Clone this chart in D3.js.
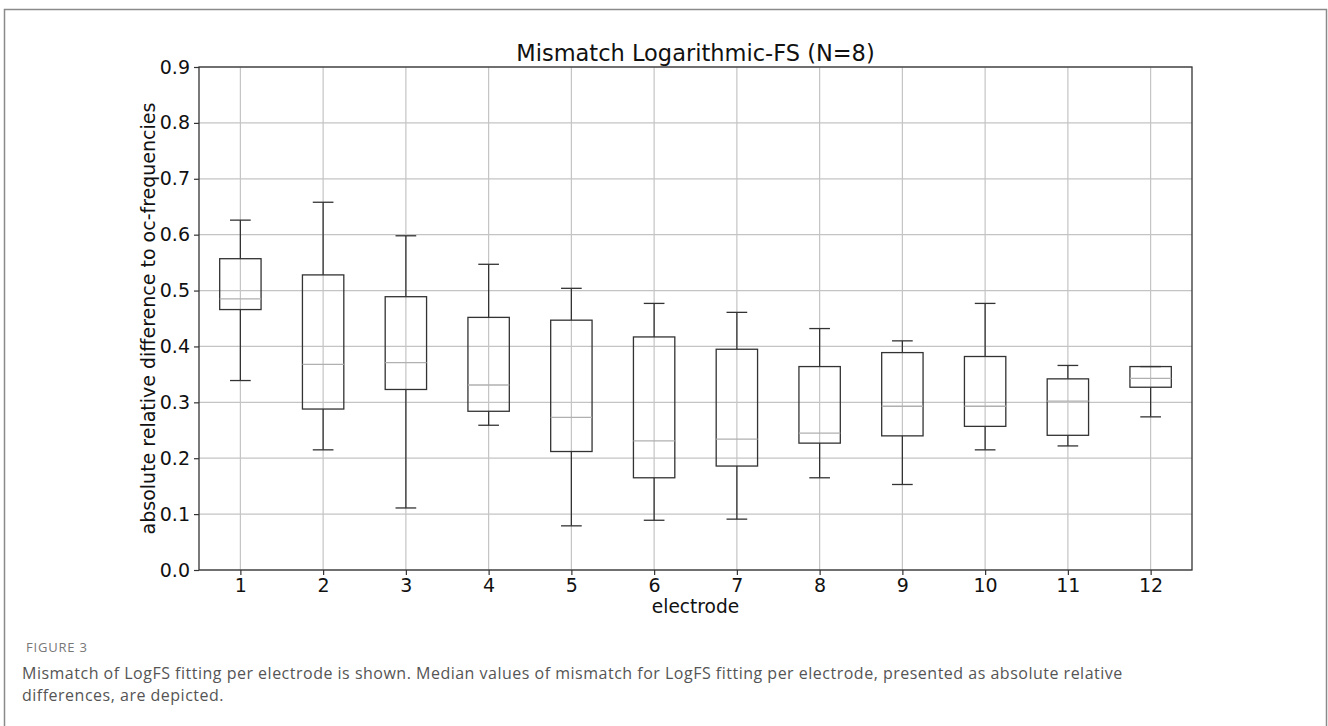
<!DOCTYPE html>
<html>
<head>
<meta charset="utf-8">
<script src="https://cdn.jsdelivr.net/npm/d3@7"></script>
<style>
  body { margin: 0; background: #fff; }
  svg text { font-family: "DejaVu Sans", sans-serif; fill: #111; }
  .caption { font-family: "Open Sans", sans-serif; fill: #555; }
</style>
</head>
<body>
<div class="chart"></div>
<script>
// electrodes and box stats
var electrodes = [1, 2, 3, 4, 5, 6, 7, 8, 9, 10, 11, 12];
var whiskerLow  = [0.339, 0.215, 0.111, 0.259, 0.079, 0.089, 0.091, 0.165, 0.153, 0.215, 0.222, 0.274];
var q1          = [0.466, 0.288, 0.323, 0.284, 0.212, 0.165, 0.186, 0.227, 0.240, 0.257, 0.241, 0.327];
var medians     = [0.485, 0.368, 0.371, 0.331, 0.273, 0.231, 0.234, 0.245, 0.293, 0.293, 0.302, 0.343];
var q3          = [0.557, 0.528, 0.489, 0.452, 0.447, 0.417, 0.395, 0.364, 0.389, 0.382, 0.342, 0.364];
var whiskerHigh = [0.626, 0.658, 0.598, 0.547, 0.504, 0.477, 0.461, 0.432, 0.410, 0.477, 0.366, 0.364];
var yTicks = [0.0, 0.1, 0.2, 0.3, 0.4, 0.5, 0.6, 0.7, 0.8, 0.9];

var svgWidth = 1328, svgHeight = 726;
var margin = { top: 67, left: 199, right: 136, bottom: 156 };
var width = svgWidth - margin.left - margin.right;
var height = svgHeight - margin.top - margin.bottom;

var svg = d3.select(".chart").append("svg")
  .attr("width", svgWidth)
  .attr("height", svgHeight);

// outer figure frame
svg.append("rect")
  .attr("x", 4.5).attr("y", 9.5)
  .attr("width", 1322).attr("height", 740)
  .attr("fill", "none").attr("stroke", "#8a8a8a").attr("stroke-width", 1.5);

var chartGroup = svg.append("g")
  .attr("transform", `translate(${margin.left}, ${margin.top})`);

var x = d3.scaleLinear().domain([0.5, 12.5]).range([0, width]);
var y = d3.scaleLinear().domain([0, 0.9]).range([height, 0]);

var data = electrodes.map(function(e, i) {
  return { e: e, lo: whiskerLow[i], q1: q1[i], med: medians[i], q3: q3[i], hi: whiskerHigh[i] };
});

// grid
chartGroup.append("g").selectAll("line").data(yTicks).enter().append("line")
  .attr("x1", 0).attr("x2", width)
  .attr("y1", d => y(d)).attr("y2", d => y(d))
  .attr("stroke", "#c4c4c4").attr("stroke-width", 1.2);
chartGroup.append("g").selectAll("line").data(electrodes).enter().append("line")
  .attr("y1", 0).attr("y2", height)
  .attr("x1", d => x(d)).attr("x2", d => x(d))
  .attr("stroke", "#c4c4c4").attr("stroke-width", 1.2);

// axes
var xAxis = d3.axisBottom(x).tickValues(electrodes).tickSize(5).tickPadding(4).tickFormat(d3.format("d"));
var yAxis = d3.axisLeft(y).tickValues(yTicks).tickSize(5).tickPadding(4).tickFormat(d3.format(".1f"));

var gx = chartGroup.append("g").attr("transform", `translate(0, ${height})`).call(xAxis);
var gy = chartGroup.append("g").call(yAxis);
[gx, gy].forEach(function(g) {
  g.select(".domain").remove();
  g.selectAll(".tick line").attr("stroke", "#333").attr("stroke-width", 1.2);
  g.selectAll("text").style("font-size", "19px").attr("fill", "#111");
});

// frame around the axes
chartGroup.append("rect")
  .attr("x", 0).attr("y", 0).attr("width", width).attr("height", height)
  .attr("fill", "none").attr("stroke", "#333").attr("stroke-width", 1.3);

// boxes
var bw = x(1.25) - x(1);
var cap = x(1.125) - x(1);
var boxes = chartGroup.append("g").selectAll("g").data(data).enter().append("g");

boxes.append("line")
  .attr("x1", d => x(d.e)).attr("x2", d => x(d.e))
  .attr("y1", d => y(d.hi)).attr("y2", d => y(d.q3))
  .attr("stroke", "#333").attr("stroke-width", 1.3);
boxes.append("line")
  .attr("x1", d => x(d.e)).attr("x2", d => x(d.e))
  .attr("y1", d => y(d.q1)).attr("y2", d => y(d.lo))
  .attr("stroke", "#333").attr("stroke-width", 1.3);
boxes.append("line")
  .attr("x1", d => x(d.e) - cap).attr("x2", d => x(d.e) + cap)
  .attr("y1", d => y(d.hi)).attr("y2", d => y(d.hi))
  .attr("stroke", "#333").attr("stroke-width", 1.3);
boxes.append("line")
  .attr("x1", d => x(d.e) - cap).attr("x2", d => x(d.e) + cap)
  .attr("y1", d => y(d.lo)).attr("y2", d => y(d.lo))
  .attr("stroke", "#333").attr("stroke-width", 1.3);
boxes.append("rect")
  .attr("x", d => x(d.e) - bw).attr("width", 2 * bw)
  .attr("y", d => y(d.q3)).attr("height", d => y(d.q1) - y(d.q3))
  .attr("fill", "none").attr("stroke", "#333").attr("stroke-width", 1.3);
boxes.append("line")
  .attr("x1", d => x(d.e) - bw).attr("x2", d => x(d.e) + bw)
  .attr("y1", d => y(d.med)).attr("y2", d => y(d.med))
  .attr("stroke", "#b0b0b0").attr("stroke-width", 1.3);

// title and axis labels
chartGroup.append("text")
  .attr("x", width / 2).attr("y", -6)
  .attr("text-anchor", "middle")
  .style("font-size", "22.5px")
  .text("Mismatch Logarithmic-FS (N=8)");

chartGroup.append("text")
  .attr("x", width / 2).attr("y", height + 43)
  .attr("text-anchor", "middle")
  .style("font-size", "18.6px")
  .text("electrode");

chartGroup.append("text")
  .attr("transform", "rotate(-90)")
  .attr("x", -height / 2).attr("y", -44)
  .attr("text-anchor", "middle")
  .style("font-size", "19px")
  .text("absolute relative difference to oc-frequencies");

// caption
svg.append("text").attr("class", "caption")
  .attr("x", 26).attr("y", 652)
  .style("font-size", "13px").style("letter-spacing", "0.8px").style("fill", "#777")
  .text("FIGURE 3");
svg.append("text").attr("class", "caption")
  .attr("x", 22).attr("y", 679)
  .style("font-size", "16px").style("letter-spacing", "0.5px")
  .text("Mismatch of LogFS fitting per electrode is shown. Median values of mismatch for LogFS fitting per electrode, presented as absolute relative");
svg.append("text").attr("class", "caption")
  .attr("x", 22).attr("y", 701)
  .style("font-size", "16px").style("letter-spacing", "0.5px")
  .text("differences, are depicted.");
</script>
</body>
</html>
